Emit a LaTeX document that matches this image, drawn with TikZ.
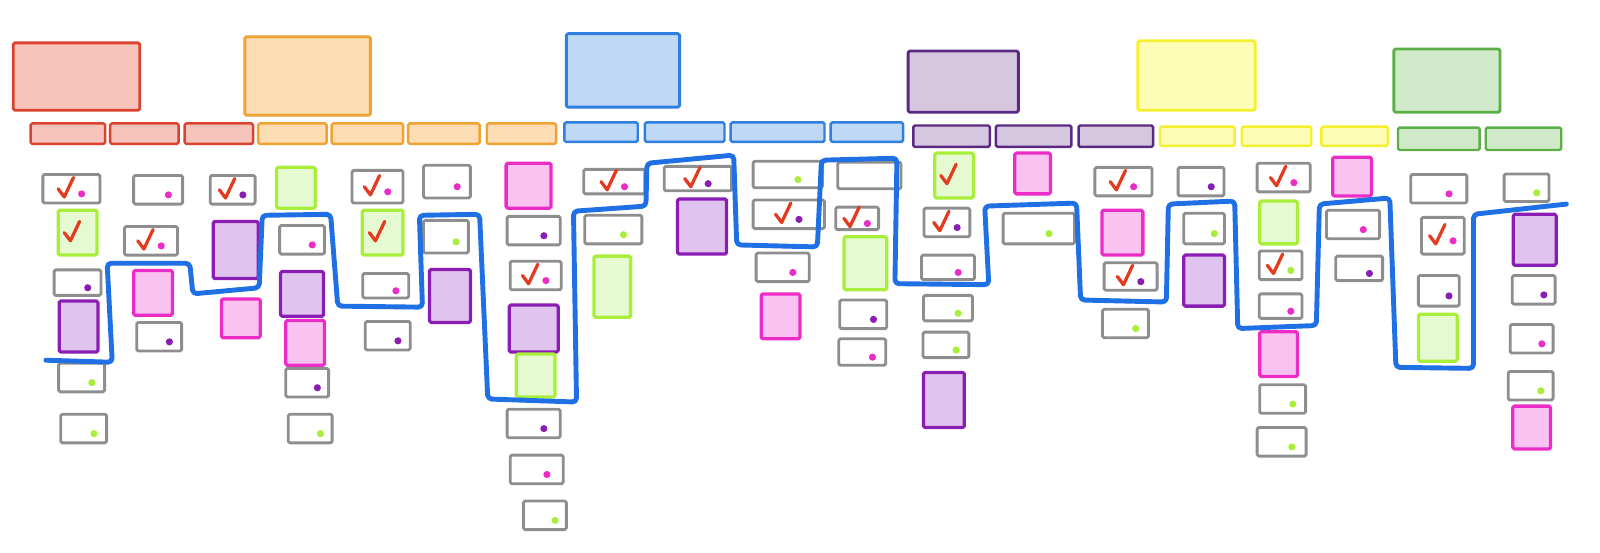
\documentclass[tikz,border=0pt]{standalone}
\usepackage{tikz}
\usetikzlibrary{positioning}
\definecolor{redpen}{HTML}{D9432F}
\definecolor{redfill}{HTML}{F7C4BC}
\definecolor{orangepen}{HTML}{F0A232}
\definecolor{orangefill}{HTML}{FCDDB4}
\definecolor{bluepen}{HTML}{2E7FE0}
\definecolor{bluefill}{HTML}{BED8F6}
\definecolor{violetpen}{HTML}{5A2A82}
\definecolor{violetfill}{HTML}{D6C7E1}
\definecolor{yellowpen}{HTML}{F5F02E}
\definecolor{yellowfill}{HTML}{FDFDB8}
\definecolor{greenpen}{HTML}{5DAE47}
\definecolor{greenfill}{HTML}{D0E9C9}
\definecolor{cardgray}{HTML}{8E8E8E}
\definecolor{limepen}{HTML}{A8EE3A}
\definecolor{limefill}{HTML}{E6FAD2}
\definecolor{pinkpen}{HTML}{EC2CC6}
\definecolor{pinkfill}{HTML}{F9C2F0}
\definecolor{plumpen}{HTML}{8A1DB3}
\definecolor{plumfill}{HTML}{E1C3F0}
\definecolor{tickred}{HTML}{E23B1F}
\definecolor{releaseblue}{HTML}{1F6FE5}

\tikzset{
  sketch/.style={line join=round, line cap=round, rounded corners=1.5pt},
  activity/.style={sketch, line width=2.8pt},
  taskbar/.style={sketch, line width=2.4pt},
  gcard/.style={sketch, line width=2.8pt, draw=cardgray, fill=white,
    minimum width=48pt, minimum height=28pt, inner sep=0pt},
  sticky/.style={sketch, line width=3.2pt, minimum width=38pt,
    minimum height=44pt, inner sep=0pt},
  slime/.style={sticky, draw=limepen, fill=limefill},
  spink/.style={sticky, draw=pinkpen, fill=pinkfill},
  splum/.style={sticky, draw=plumpen, fill=plumfill},
  tick/.style={draw=tickred, line width=3.2pt, line cap=round, line join=round},
  release/.style={draw=releaseblue, line width=4.8pt, line join=round,
    line cap=round, rounded corners=4pt}
}

\newcommand{\tickon}[1]{\draw[tick] (#1.center) ++(-13,0) -- ++(6,8) -- ++(9,-19);}
\newcommand{\doton}[2]{\fill[#2] (#1.center) ++(10,5) circle (3.5);}

\begin{document}
\begin{tikzpicture}[x=1pt,y=-1pt]
  \useasboundingbox (0,0) rectangle (1568,541);

  % activities
  \filldraw[activity, draw=redpen, fill=redfill]       (13,42)   rectangle (137,108);
  \filldraw[activity, draw=orangepen, fill=orangefill] (240,36)  rectangle (363,113);
  \filldraw[activity, draw=bluepen, fill=bluefill]     (555,33)  rectangle (666,105);
  \filldraw[activity, draw=violetpen, fill=violetfill] (890,50)  rectangle (998,110);
  \filldraw[activity, draw=yellowpen, fill=yellowfill] (1115,40) rectangle (1230,108);
  \filldraw[activity, draw=greenpen, fill=greenfill]   (1366,48) rectangle (1470,110);

  % tasks
  \foreach \a/\b in {30/103,108/175,181/248}
    \filldraw[taskbar, draw=redpen, fill=redfill] (\a,121) rectangle (\b,141);
  \foreach \a/\b in {253/320,325/395,400/470,477/545}
    \filldraw[taskbar, draw=orangepen, fill=orangefill] (\a,121) rectangle (\b,141);
  \foreach \a/\b in {553/625,632/710,716/808,814/885}
    \filldraw[taskbar, draw=bluepen, fill=bluefill] (\a,120) rectangle (\b,139);
  \foreach \a/\b in {895/970,976/1050,1057/1130}
    \filldraw[taskbar, draw=violetpen, fill=violetfill] (\a,123) rectangle (\b,144);
  \foreach \a/\b in {1137/1210,1217/1285,1295/1360}
    \filldraw[taskbar, draw=yellowpen, fill=yellowfill] (\a,124) rectangle (\b,143);
  \foreach \a/\b in {1370/1450,1456/1530}
    \filldraw[taskbar, draw=greenpen, fill=greenfill] (\a,125) rectangle (\b,147);

  % column 1
  \node[gcard, minimum width=56pt] (c1-1) at (70,185) {};
  \tickon{c1-1} \doton{c1-1}{pinkpen}
  \node[slime] (c1-2) at (76,228) {};
  \tickon{c1-2}
  \node[gcard, minimum width=46pt, minimum height=25pt] (c1-3) at (76,277) {};
  \doton{c1-3}{plumpen}
  \node[splum, minimum height=50pt] (c1-4) at (77,320) {};
  \node[gcard, minimum width=45pt] (c1-5) at (80,370) {};
  \doton{c1-5}{limepen}
  \node[gcard, minimum width=45pt] (c1-6) at (82,420) {};
  \doton{c1-6}{limepen}

  % column 2
  \node[gcard] (c2-1) at (155,186) {};
  \doton{c2-1}{pinkpen}
  \node[gcard, minimum width=52pt] (c2-2) at (148,236) {};
  \tickon{c2-2} \doton{c2-2}{pinkpen}
  \node[spink] (c2-3) at (150,287) {};
  \node[gcard, minimum width=44pt] (c2-4) at (156,330) {};
  \doton{c2-4}{plumpen}

  % column 3
  \node[gcard, minimum width=44pt] (c3-1) at (228,186) {};
  \tickon{c3-1} \doton{c3-1}{plumpen}
  \node[splum, minimum width=44pt, minimum height=56pt] (c3-2) at (231,245) {};
  \node[spink, minimum height=38pt] (c3-3) at (236,312) {};

  % column 4
  \node[slime, minimum height=40pt] (c4-1) at (290,184) {};
  \node[gcard, minimum width=44pt] (c4-2) at (296,235) {};
  \doton{c4-2}{pinkpen}
  \node[splum, minimum width=42pt] (c4-3) at (296,288) {};
  \node[spink] (c4-4) at (299,336) {};
  \node[gcard, minimum width=42pt] (c4-5) at (301,375) {};
  \doton{c4-5}{plumpen}
  \node[gcard, minimum width=43pt] (c4-6) at (304,420) {};
  \doton{c4-6}{limepen}

  % column 5
  \node[gcard, minimum width=50pt, minimum height=32pt] (c5-1) at (370,183) {};
  \tickon{c5-1} \doton{c5-1}{pinkpen}
  \node[slime, minimum width=40pt] (c5-2) at (375,228) {};
  \tickon{c5-2}
  \node[gcard, minimum width=45pt, minimum height=24pt] (c5-3) at (378,280) {};
  \doton{c5-3}{pinkpen}
  \node[gcard, minimum width=44pt] (c5-4) at (380,329) {};
  \doton{c5-4}{plumpen}

  % column 6
  \node[gcard, minimum width=46pt, minimum height=32pt] (c6-1) at (438,178) {};
  \doton{c6-1}{pinkpen}
  \node[gcard, minimum width=44pt, minimum height=32pt] (c6-2) at (437,232) {};
  \doton{c6-2}{limepen}
  \node[splum, minimum width=40pt, minimum height=52pt] (c6-3) at (441,290) {};

  % column 7
  \node[spink, minimum width=44pt] (c7-1) at (518,182) {};
  \node[gcard, minimum width=52pt] (c7-2) at (523,226) {};
  \doton{c7-2}{plumpen}
  \node[gcard, minimum width=50pt] (c7-3) at (525,270) {};
  \tickon{c7-3} \doton{c7-3}{pinkpen}
  \node[splum, minimum width=48pt, minimum height=46pt] (c7-4) at (523,322) {};
  \node[slime, minimum height=42pt] (c7-5) at (525,368) {};
  \node[gcard, minimum width=52pt] (c7-6) at (523,415) {};
  \doton{c7-6}{plumpen}
  \node[gcard, minimum width=52pt] (c7-7) at (526,460) {};
  \doton{c7-7}{pinkpen}
  \node[gcard, minimum width=42pt] (c7-8) at (534,505) {};
  \doton{c7-8}{limepen}

  % column 8
  \node[gcard, minimum width=60pt, minimum height=24pt] (c8-1) at (602,178) {};
  \tickon{c8-1} \doton{c8-1}{pinkpen}
  \node[gcard, minimum width=56pt] (c8-2) at (601,225) {};
  \doton{c8-2}{limepen}
  \node[slime, minimum width=36pt, minimum height=60pt] (c8-3) at (600,281) {};

  % column 9
  \node[gcard, minimum width=66pt, minimum height=24pt] (c9-1) at (684,175) {};
  \tickon{c9-1} \doton{c9-1}{plumpen}
  \node[splum, minimum width=48pt, minimum height=54pt] (c9-2) at (688,222) {};

  % column 10
  \node[gcard, minimum width=68pt, minimum height=26pt] (c10-1) at (772,171) {};
  \doton{c10-1}{limepen}
  \node[gcard, minimum width=70pt] (c10-2) at (773,210) {};
  \tickon{c10-2} \doton{c10-2}{plumpen}
  \node[gcard, minimum width=52pt] (c10-3) at (767,262) {};
  \doton{c10-3}{pinkpen}
  \node[spink] (c10-4) at (765,310) {};

  % column 11
  \node[gcard, minimum width=62pt, minimum height=26pt] (c11-1) at (852,172) {};
  \node[gcard, minimum width=42pt, minimum height=22pt] (c11-2) at (840,214) {};
  \tickon{c11-2} \doton{c11-2}{pinkpen}
  \node[slime, minimum width=42pt, minimum height=52pt] (c11-3) at (848,258) {};
  \node[gcard, minimum width=46pt] (c11-4) at (846,308) {};
  \doton{c11-4}{plumpen}
  \node[gcard, minimum width=46pt, minimum height=26pt] (c11-5) at (845,345) {};
  \doton{c11-5}{pinkpen}

  % column 12
  \node[slime] (c12-1) at (935,172) {};
  \tickon{c12-1}
  \node[gcard, minimum width=45pt] (c12-2) at (928,218) {};
  \tickon{c12-2} \doton{c12-2}{plumpen}
  \node[gcard, minimum width=52pt, minimum height=24pt] (c12-3) at (929,262) {};
  \doton{c12-3}{pinkpen}
  \node[gcard, minimum width=48pt, minimum height=25pt] (c12-4) at (929,302) {};
  \doton{c12-4}{limepen}
  \node[gcard, minimum width=45pt, minimum height=25pt] (c12-5) at (927,338) {};
  \doton{c12-5}{limepen}
  \node[splum, minimum width=40pt, minimum height=54pt] (c12-6) at (925,392) {};

  % column 13
  \node[spink, minimum width=35pt, minimum height=40pt] (c13-1) at (1012,170) {};
  \node[gcard, minimum width=70pt, minimum height=30pt] (c13-2) at (1018,224) {};
  \doton{c13-2}{limepen}

  % column 14
  \node[gcard, minimum width=56pt] (c14-1) at (1101,178) {};
  \tickon{c14-1} \doton{c14-1}{pinkpen}
  \node[spink, minimum width=40pt] (c14-2) at (1100,228) {};
  \node[gcard, minimum width=52pt, minimum height=27pt] (c14-3) at (1108,271) {};
  \tickon{c14-3} \doton{c14-3}{plumpen}
  \node[gcard, minimum width=45pt] (c14-4) at (1103,317) {};
  \doton{c14-4}{limepen}

  % column 15
  \node[gcard, minimum width=45pt] (c15-1) at (1177,178) {};
  \doton{c15-1}{plumpen}
  \node[gcard, minimum width=40pt, minimum height=30pt] (c15-2) at (1180,224) {};
  \doton{c15-2}{limepen}
  \node[splum, minimum width=40pt, minimum height=50pt] (c15-3) at (1180,275) {};

  % column 16
  \node[gcard, minimum width=52pt] (c16-1) at (1258,174) {};
  \tickon{c16-1} \doton{c16-1}{pinkpen}
  \node[slime, minimum width=37pt, minimum height=42pt] (c16-2) at (1253,218) {};
  \node[gcard, minimum width=42pt] (c16-3) at (1255,260) {};
  \tickon{c16-3} \doton{c16-3}{limepen}
  \node[gcard, minimum width=42pt, minimum height=24pt] (c16-4) at (1255,300) {};
  \doton{c16-4}{pinkpen}
  \node[spink, minimum width=37pt] (c16-5) at (1253,347) {};
  \node[gcard, minimum width=45pt] (c16-6) at (1257,391) {};
  \doton{c16-6}{limepen}
  \node[gcard, minimum width=48pt] (c16-7) at (1256,433) {};
  \doton{c16-7}{limepen}

  % column 17
  \node[spink, minimum height=38pt] (c17-1) at (1325,173) {};
  \node[gcard, minimum width=52pt] (c17-2) at (1326,220) {};
  \doton{c17-2}{pinkpen}
  \node[gcard, minimum width=46pt, minimum height=24pt] (c17-3) at (1332,263) {};
  \doton{c17-3}{plumpen}

  % column 18
  \node[gcard, minimum width=55pt] (c18-1) at (1410,185) {};
  \doton{c18-1}{pinkpen}
  \node[gcard, minimum width=42pt, minimum height=36pt] (c18-2) at (1414,231) {};
  \tickon{c18-2} \doton{c18-2}{pinkpen}
  \node[gcard, minimum width=40pt, minimum height=30pt] (c18-3) at (1410,285) {};
  \doton{c18-3}{plumpen}
  \node[slime, minimum height=46pt] (c18-4) at (1409,331) {};

  % column 19
  \node[gcard, minimum width=44pt, minimum height=27pt] (c19-1) at (1496,184) {};
  \doton{c19-1}{limepen}
  \node[splum, minimum width=42pt, minimum height=50pt] (c19-2) at (1504,235) {};
  \node[gcard, minimum width=42pt] (c19-3) at (1503,284) {};
  \doton{c19-3}{plumpen}
  \node[gcard, minimum width=42pt] (c19-4) at (1501,332) {};
  \doton{c19-4}{pinkpen}
  \node[gcard, minimum width=44pt] (c19-5) at (1500,378) {};
  \doton{c19-5}{limepen}
  \node[spink, minimum width=37pt, minimum height=42pt] (c19-6) at (1501,419) {};

  % release line
  \draw[release] (45,353) -- (110,355) -- (105,258) -- (186,258) -- (189,288)
    -- (254,282) -- (257,211) -- (324,210) -- (331,300) -- (414,301) -- (411,211)
    -- (470,210) -- (478,391) -- (565,394) -- (562,207) -- (633,202) -- (634,160)
    -- (719,152) -- (722,240) -- (801,242) -- (805,157) -- (879,155) -- (877,278)
    -- (969,279) -- (965,202) -- (1055,199) -- (1059,294) -- (1143,296)
    -- (1145,200) -- (1210,197) -- (1213,322) -- (1290,319) -- (1293,200)
    -- (1362,194) -- (1368,360) -- (1444,361) -- (1444,210) -- (1535,200);
\end{tikzpicture}
\end{document}
